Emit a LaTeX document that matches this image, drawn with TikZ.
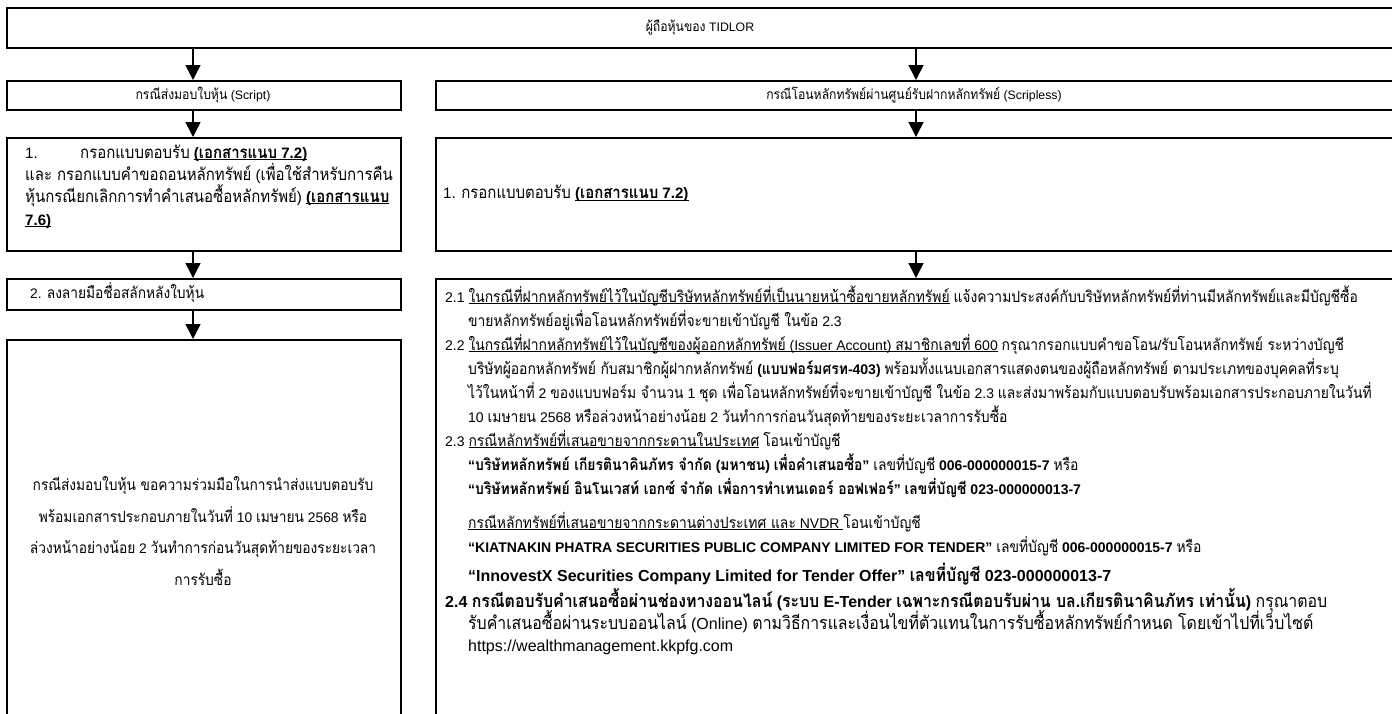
\documentclass[tikz,border=0pt]{standalone}
\usepackage{fontspec}
\setmainfont{Liberation Sans}
\newfontfamily\thaifont[Script=Thai,Scale=1.12,FakeStretch=0.885]{Loma}
\usetikzlibrary{arrows.meta}

\newcommand\tha[1]{{\thaifont#1}}
\newcommand\fsm{\fontsize{12.3}{14}\selectfont}
\newcommand\fsl{\fontsize{13.85}{16}\selectfont}
\newcommand\fsa{\fontsize{15.1}{18}\selectfont}
\newcommand\fs{\fontsize{14}{17}\selectfont}
\newcommand\fsbig{\fontsize{16}{19}\selectfont}
\newcommand\ulin[1]{\setbox0\hbox{#1}\rlap{\rule[-2.2pt]{\wd0}{0.9pt}}\box0\relax}

\begin{document}
\begin{tikzpicture}[
    x=1pt, y=-1pt,
    box/.style={draw, line width=2pt, inner sep=0pt, anchor=north west},
    arrow/.style={-{Triangle[width=15pt,length=15pt]}, line width=1.5pt},
    stxt/.style={anchor=base, inner sep=0pt, font=\fsm},
    atxt/.style={anchor=base west, inner sep=0pt, font=\fsa},
    ltxt/.style={anchor=base west, inner sep=0pt, font=\fsl},
    lctxt/.style={anchor=base, inner sep=0pt, font=\fsl},
    txt/.style={anchor=base west, inner sep=0pt, font=\fs},
    bigtxt/.style={anchor=base west, inner sep=0pt, font=\fsbig}
]
    \useasboundingbox (0,0) rectangle (1392,713);

    % Shareholders
    \node[box, minimum width=1390pt, minimum height=40pt] (top) at (6,7) {};
    \node[stxt] (toptxt) at (700,31.5) {\tha{ผู้ถือหุ้นของ} TIDLOR};

    % Two cases
    \node[box, minimum width=394pt, minimum height=29pt] (scr) at (6,80) {};
    \node[stxt] (scrtxt) at (203,99) {\tha{กรณีส่งมอบใบหุ้น} (Script)};
    \node[box, minimum width=961pt, minimum height=29pt] (scl) at (435,80) {};
    \node[stxt] (scltxt) at (914,99) {\tha{กรณีโอนหลักทรัพย์ผ่านศูนย์รับฝากหลักทรัพย์} (Scripless)};

    % Step 1
    \node[box, minimum width=394pt, minimum height=113pt] (scra) at (6,137) {};
    \node[atxt] (scra1) at (25,158) {\makebox[55pt][l]{1.}\tha{กรอกแบบตอบรับ} \ulin{\textbf{(\tha{เอกสารแนบ} 7.2)}}};
    \node[atxt] (scra2) at (25,180) {\tha{และ กรอกแบบคำขอถอนหลักทรัพย์} (\tha{เพื่อใช้สำหรับการคืน}};
    \node[atxt] (scra3) at (25,202) {\tha{หุ้นกรณียกเลิกการทำคำเสนอซื้อหลักทรัพย์}) \ulin{\textbf{(\tha{เอกสารแนบ}}}};
    \node[atxt] (scra4) at (25,225) {\ulin{\textbf{7.6)}}};
    \node[box, minimum width=961pt, minimum height=113pt] (scla) at (435,137) {};
    \node[atxt] (scla1) at (443,198.5) {1. \tha{กรอกแบบตอบรับ} \ulin{\textbf{(\tha{เอกสารแนบ} 7.2)}}};

    % Step 2, certificates
    \node[box, minimum width=394pt, minimum height=31pt] (scrb) at (6,278) {};
    \node[ltxt] (scrb1) at (30,298.5) {2. \tha{ลงลายมือชื่อสลักหลังใบหุ้น}};
    \node[box, minimum width=394pt, minimum height=390pt] (scrc) at (6,339) {};
    \node[lctxt] (scrc1) at (203,490) {\tha{กรณีส่งมอบใบหุ้น ขอความร่วมมือในการนำส่งแบบตอบรับ}};
    \node[lctxt] (scrc2) at (203,522) {\tha{พร้อมเอกสารประกอบภายในวันที่} 10 \tha{เมษายน} 2568 \tha{หรือ}};
    \node[lctxt] (scrc3) at (203,553) {\tha{ล่วงหน้าอย่างน้อย} 2 \tha{วันทำการก่อนวันสุดท้ายของระยะเวลา}};
    \node[lctxt] (scrc4) at (203,585) {\tha{การรับซื้อ}};

    % Step 2, scripless
    \node[box, minimum width=961pt, minimum height=451pt] (sclb) at (435,278) {};
    \node[txt] (r1) at (445,302) {2.1 \ulin{\tha{ในกรณีที่ฝากหลักทรัพย์ไว้ในบัญชีบริษัทหลักทรัพย์ที่เป็นนายหน้าซื้อขายหลักทรัพย์}} \tha{แจ้งความประสงค์กับบริษัทหลักทรัพย์ที่ท่านมีหลักทรัพย์และมีบัญชีซื้อ}};
    \node[txt] (r2) at (468,326) {\tha{ขายหลักทรัพย์อยู่เพื่อโอนหลักทรัพย์ที่จะขายเข้าบัญชี ในข้อ} 2.3};
    \node[txt] (r3) at (445,350) {2.2 \ulin{\tha{ในกรณีที่ฝากหลักทรัพย์ไว้ในบัญชีของผู้ออกหลักทรัพย์} (Issuer Account) \tha{สมาชิกเลขที่} 600} \tha{กรุณากรอกแบบคำขอโอน}/\tha{รับโอนหลักทรัพย์ ระหว่างบัญชี}};
    \node[txt] (r4) at (468,374) {\tha{บริษัทผู้ออกหลักทรัพย์ กับสมาชิกผู้ฝากหลักทรัพย์} \textbf{(\tha{แบบฟอร์มศรท}-403)} \tha{พร้อมทั้งแนบเอกสารแสดงตนของผู้ถือหลักทรัพย์ ตามประเภทของบุคคลที่ระบุ}};
    \node[txt] (r5) at (468,398) {\tha{ไว้ในหน้าที่} 2 \tha{ของแบบฟอร์ม จำนวน} 1 \tha{ชุด เพื่อโอนหลักทรัพย์ที่จะขายเข้าบัญชี ในข้อ} 2.3 \tha{และส่งมาพร้อมกับแบบตอบรับพร้อมเอกสารประกอบภายในวันที่}};
    \node[txt] (r6) at (468,422) {10 \tha{เมษายน} 2568 \tha{หรือล่วงหน้าอย่างน้อย} 2 \tha{วันทำการก่อนวันสุดท้ายของระยะเวลาการรับซื้อ}};
    \node[txt] (r7) at (445,446) {2.3 \ulin{\tha{กรณีหลักทรัพย์ที่เสนอขายจากกระดานในประเทศ}} \tha{โอนเข้าบัญชี}};
    \node[txt] (r8) at (468,470) {\textbf{“\tha{บริษัทหลักทรัพย์ เกียรตินาคินภัทร จำกัด} (\tha{มหาชน}) \tha{เพื่อคำเสนอซื้อ}”} \tha{เลขที่บัญชี} \textbf{006-000000015-7} \tha{หรือ}};
    \node[txt] (r9) at (468,494) {\textbf{“\tha{บริษัทหลักทรัพย์ อินโนเวสท์ เอกซ์ จำกัด เพื่อการทำเทนเดอร์ ออฟเฟอร์}” \tha{เลขที่บัญชี} 023-000000013-7}};
    \node[txt] (r10) at (468,528) {\ulin{\tha{กรณีหลักทรัพย์ที่เสนอขายจากกระดานต่างประเทศ และ} NVDR }\tha{โอนเข้าบัญชี}};
    \node[txt] (r11) at (468,552) {\textbf{“KIATNAKIN PHATRA SECURITIES PUBLIC COMPANY LIMITED FOR TENDER”} \tha{เลขที่บัญชี} \textbf{006-000000015-7} \tha{หรือ}};
    \node[bigtxt] (r12) at (468,581.5) {\textbf{“InnovestX Securities Company Limited for Tender Offer” \tha{เลขที่บัญชี} 023-000000013-7}};
    \node[bigtxt] (r13) at (445,607.5) {\textbf{2.4 \tha{กรณีตอบรับคำเสนอซื้อผ่านช่องทางออนไลน์} (\tha{ระบบ} E-Tender \tha{เฉพาะกรณีตอบรับผ่าน บล}.\tha{เกียรตินาคินภัทร เท่านั้น})} \tha{กรุณาตอบ}};
    \node[bigtxt] (r14) at (468,629.5) {\tha{รับคำเสนอซื้อผ่านระบบออนไลน์} (Online) \tha{ตามวิธีการและเงื่อนไขที่ตัวแทนในการรับซื้อหลักทรัพย์กำหนด โดยเข้าไปที่เว็บไซต์}};
    \node[bigtxt] (r15) at (468,651.5) {https://wealthmanagement.kkpfg.com};

    % Arrows
    \coordinate (colL) at (193,0);
    \coordinate (colR) at (916,0);
    \draw[arrow] (top.south -| colL) -- (scr.north -| colL);
    \draw[arrow] (top.south -| colR) -- (scl.north -| colR);
    \draw[arrow] (scr.south -| colL) -- (scra.north -| colL);
    \draw[arrow] (scl.south -| colR) -- (scla.north -| colR);
    \draw[arrow] (scra.south -| colL) -- (scrb.north -| colL);
    \draw[arrow] (scla.south -| colR) -- (sclb.north -| colR);
    \draw[arrow] (scrb.south -| colL) -- (scrc.north -| colL);
\end{tikzpicture}
\end{document}
